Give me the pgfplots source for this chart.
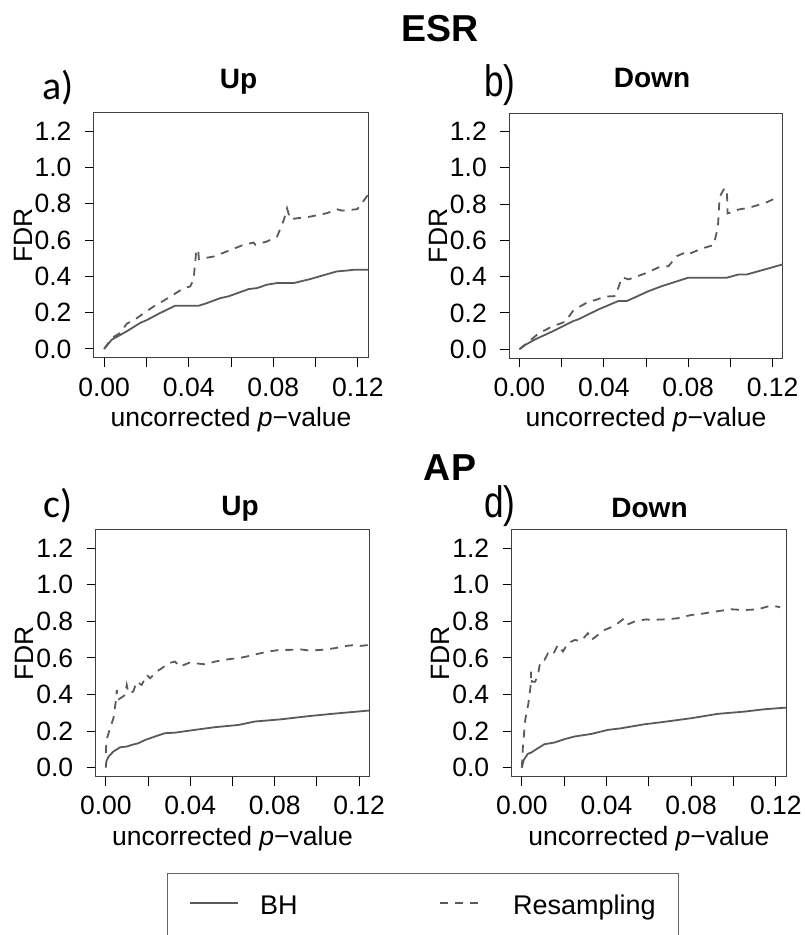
\documentclass[border=0pt]{standalone}
\usepackage{fontspec}
\setmainfont{Liberation Sans}
\newfontfamily\carlito{Carlito}
\usepackage{pgfplots}
\pgfplotsset{compat=1.18}
\definecolor{curve}{HTML}{5A5A5A}
\pgfplotsset{
  fdr/.style={
    scale only axis, anchor=south west,
    xmin=-0.0048, xmax=0.1248, ymin=-0.05, ymax=1.30,
    xtick={0,0.02,0.04,0.06,0.08,0.1,0.12},
    xticklabels={0.00,,0.04,,0.08,,0.12},
    ytick={0,0.2,0.4,0.6,0.8,1.0,1.2},
    yticklabels={0.0,0.2,0.4,0.6,0.8,1.0,1.2},
    xtick pos=bottom, ytick pos=left,
    tick align=outside, major tick length=9pt,
    axis line style={black!75, line width=1pt},
    every tick/.style={black, line width=1pt},
    ticklabel style={font=\fontsize{26.5}{30}\selectfont},
    xticklabel style={yshift=-7pt},
    yticklabel style={xshift=-10pt},
    /pgf/number format/assume math mode=true,
    xlabel={uncorrected \textit{p}−value},
    ylabel={FDR},
    label style={font=\fontsize{26.5}{30}\selectfont},
    xlabel style={at={([yshift=-68.5pt]axis description cs:0.5,0)}, anchor=base},
    ylabel style={at={([xshift=-71pt]axis description cs:0,0.5)}, rotate=0, anchor=center},
  },
  bh/.style={curve, line width=1.8pt},
  rs/.style={curve, line width=1.8pt, dash pattern=on 8pt off 7pt},
}
\newcommand{\bigt}{\fontsize{37.5}{42}\selectfont\bfseries}
\newcommand{\subt}{\fontsize{28}{32}\selectfont\bfseries}
\begin{document}
\begin{tikzpicture}
\useasboundingbox (0,0) rectangle (804pt,935pt);

% a) ESR up
\begin{axis}[fdr, at={(94pt,577pt)}, width=274pt, height=245pt]
\addplot[bh] coordinates {
(0,0) (0.0036,0.051) (0.0107,0.097) (0.017,0.143) (0.020,0.158) (0.0265,0.198)
(0.0336,0.238) (0.0447,0.238) (0.0478,0.249) (0.055,0.280) (0.0589,0.290)
(0.0684,0.330) (0.0723,0.335) (0.077,0.354) (0.0818,0.363) (0.0897,0.363)
(0.0975,0.385) (0.110,0.427) (0.115,0.432) (0.118,0.436) (0.1247,0.436)
};
\addplot[rs] coordinates {
(0,0) (0.0036,0.060) (0.0076,0.088) (0.0107,0.139) (0.0155,0.170) (0.020,0.207)
(0.024,0.238) (0.0289,0.271) (0.0328,0.299) (0.0376,0.335) (0.0407,0.344)
(0.0423,0.381) (0.0436,0.546) (0.0445,0.546) (0.0448,0.495) (0.0518,0.509)
(0.058,0.537) (0.066,0.574) (0.0707,0.586) (0.0715,0.574) (0.077,0.592)
(0.0818,0.619) (0.085,0.711) (0.0865,0.775) (0.088,0.715) (0.0975,0.729)
(0.1054,0.748) (0.110,0.770) (0.1125,0.762) (0.1197,0.770) (0.121,0.788)
(0.1247,0.848)
};
\end{axis}

% b) ESR down
\begin{axis}[fdr, at={(509.3pt,576.7pt)}, width=273.4pt, height=245pt]
\addplot[bh] coordinates {
(0,0) (0.0028,0.024) (0.0076,0.055) (0.0155,0.097) (0.0257,0.156) (0.028,0.165)
(0.0376,0.220) (0.047,0.266) (0.051,0.266) (0.0612,0.320) (0.0676,0.348)
(0.080,0.394) (0.0983,0.394) (0.1039,0.412) (0.1078,0.412) (0.1247,0.467)
};
\addplot[rs] coordinates {
(0,0) (0.0044,0.042) (0.0092,0.088) (0.0155,0.125) (0.0218,0.152) (0.024,0.189)
(0.0257,0.216) (0.0328,0.262) (0.036,0.271) (0.0407,0.290) (0.0455,0.293)
(0.0486,0.396) (0.0518,0.385) (0.0597,0.418) (0.066,0.451) (0.0707,0.458)
(0.0746,0.513) (0.0794,0.537) (0.081,0.528) (0.0865,0.555) (0.0921,0.574)
(0.0941,0.674) (0.0949,0.839) (0.0968,0.880) (0.0983,0.885) (0.0987,0.748)
(0.1039,0.770) (0.1086,0.779) (0.1165,0.806) (0.121,0.830) (0.122,0.839)
};
\end{axis}

% c) AP up
\begin{axis}[fdr, at={(95.7pt,158.3pt)}, width=273.6pt, height=246.7pt]
\addplot[bh] coordinates {
(0,0) (0.0002,0.033) (0.0013,0.060) (0.0036,0.088) (0.0068,0.111) (0.0099,0.115)
(0.0123,0.124) (0.0154,0.133) (0.0186,0.151) (0.0233,0.170) (0.028,0.188)
(0.0328,0.191) (0.042,0.206) (0.0517,0.221) (0.0627,0.233) (0.0706,0.252)
(0.083,0.264) (0.0973,0.283) (0.110,0.297) (0.1247,0.312)
};
\addplot[rs] coordinates {
(0,0.08) (0.0003,0.15) (0.002,0.215) (0.0036,0.27) (0.0047,0.361) (0.0052,0.425)
(0.0057,0.370) (0.0091,0.397) (0.0099,0.452) (0.0107,0.407) (0.013,0.416)
(0.0146,0.47) (0.017,0.452) (0.0194,0.507) (0.021,0.489) (0.024,0.525)
(0.0265,0.543) (0.0296,0.571) (0.0328,0.58) (0.035,0.552) (0.04,0.576)
(0.042,0.571) (0.047,0.565) (0.0517,0.58) (0.0587,0.594) (0.0627,0.598)
(0.068,0.611) (0.073,0.625) (0.077,0.635) (0.0824,0.644) (0.087,0.644)
(0.092,0.647) (0.0965,0.64) (0.102,0.644) (0.1083,0.653) (0.1146,0.667)
(0.119,0.671) (0.121,0.666) (0.1247,0.671)
};
\end{axis}

% d) AP down
\begin{axis}[fdr, at={(511.7pt,158.3pt)}, width=274.3pt, height=246.7pt]
\addplot[bh] coordinates {
(0,0) (0.0009,0.042) (0.0028,0.075) (0.0044,0.082) (0.0076,0.106) (0.0107,0.128)
(0.0154,0.137) (0.020,0.155) (0.0249,0.170) (0.0328,0.184) (0.0406,0.206)
(0.0469,0.215) (0.058,0.237) (0.0658,0.248) (0.080,0.270) (0.0926,0.294)
(0.105,0.306) (0.1146,0.319) (0.1247,0.328)
};
\addplot[rs] coordinates {
(0,0) (0.0005,0.115) (0.0016,0.261) (0.0031,0.352) (0.0041,0.443) (0.0044,0.525)
(0.0047,0.470) (0.0063,0.470) (0.0076,0.507) (0.0087,0.580) (0.0107,0.589)
(0.0123,0.625) (0.0146,0.616) (0.017,0.671) (0.0194,0.635) (0.0217,0.680)
(0.0249,0.698) (0.028,0.693) (0.0312,0.735) (0.0328,0.698) (0.039,0.753)
(0.0438,0.775) (0.0477,0.811) (0.0493,0.780) (0.0532,0.799) (0.0587,0.811)
(0.061,0.808) (0.0674,0.811) (0.0737,0.817) (0.080,0.835) (0.0847,0.841)
(0.091,0.853) (0.0989,0.866) (0.1052,0.862) (0.1115,0.866) (0.116,0.881)
(0.1194,0.884) (0.122,0.877)
};
\end{axis}

% titles and panel letters
\node[anchor=base, inner sep=0pt] at (440pt,893.3pt) {\bigt ESR};
\node[anchor=base, inner sep=0pt] at (450pt,454pt) {\bigt AP};
\node[anchor=base, inner sep=0pt] at (238.5pt,846.7pt) {\subt Up};
\node[anchor=base, inner sep=0pt] at (652pt,847pt) {\subt Down};
\node[anchor=base, inner sep=0pt] at (240pt,419pt) {\subt Up};
\node[anchor=base, inner sep=0pt] at (649.5pt,417.7pt) {\subt Down};
\node[anchor=base west, inner sep=0pt] at (42pt,835pt) {\carlito\fontsize{40}{44}\selectfont a)};
\node[anchor=base west, inner sep=0pt] at (43pt,417pt) {\carlito\fontsize{40}{44}\selectfont c)};
\node[anchor=base west, inner sep=0pt] at (484pt,838pt) {\scalebox{0.8}[1]{\fontsize{44}{48}\selectfont b)}};
\node[anchor=base west, inner sep=0pt] at (484pt,417pt) {\scalebox{0.8}[1]{\fontsize{44}{48}\selectfont d)}};

% legend
\draw[black!60, line width=1pt] (167pt,-30pt) rectangle (678pt,61pt);
\draw[curve, line width=1.5pt] (190pt,32pt) -- (238pt,32pt);
\draw[curve, line width=1.5pt, dash pattern=on 8pt off 7pt] (440pt,32pt) -- (480pt,32pt);
\node[anchor=base west, inner sep=0pt, font=\fontsize{27}{32}\selectfont] at (260pt,20pt) {BH};
\node[anchor=base west, inner sep=0pt, font=\fontsize{27}{32}\selectfont] at (513pt,20pt) {Resampling};
\end{tikzpicture}
\end{document}
